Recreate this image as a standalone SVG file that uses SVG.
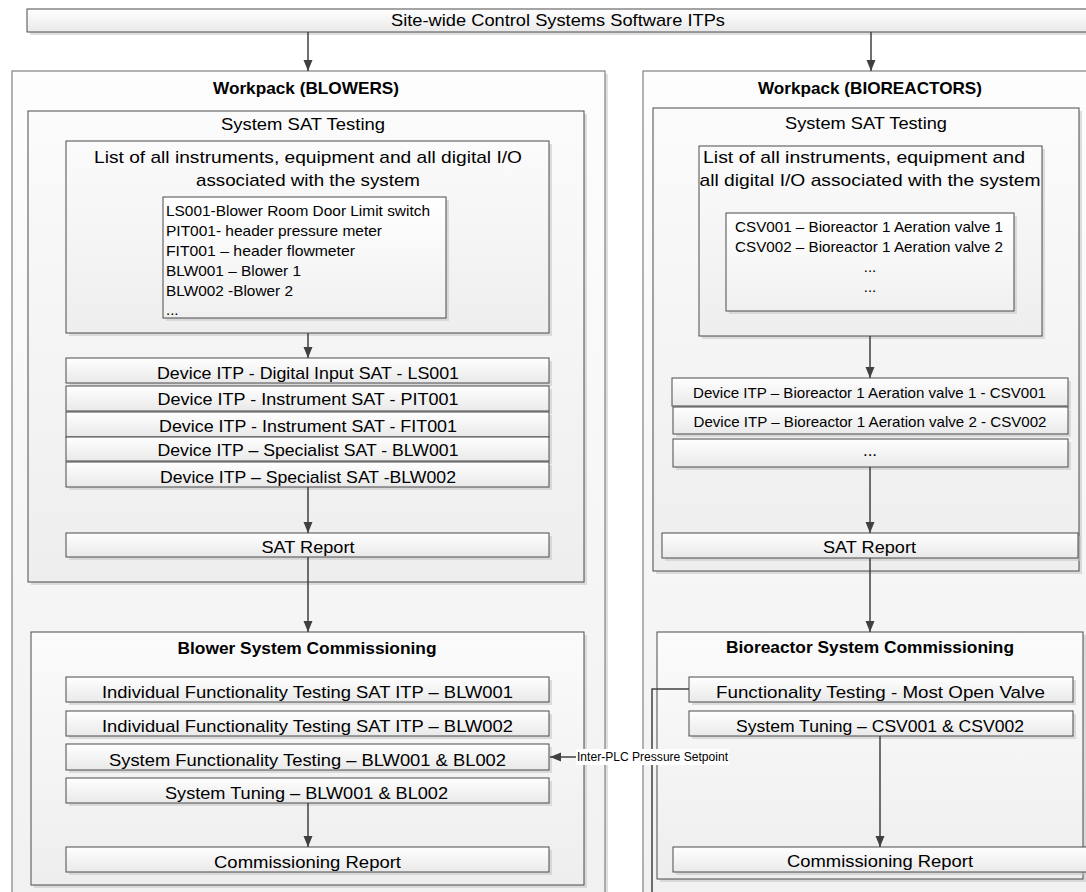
<svg xmlns="http://www.w3.org/2000/svg" width="1086" height="892" viewBox="0 0 1086 892">
<style>
text{font-family:"Liberation Sans",Arial,sans-serif;fill:#000}
.t{font-size:17px;text-anchor:middle}
.tc{font-size:15px;text-anchor:middle}
.b{font-size:17px;font-weight:bold;text-anchor:middle}
.s{font-size:15px}
.sm{font-size:15px;text-anchor:middle}
.lbl{font-size:12px}
.box{fill:url(#gBox);stroke:#4a4a4a;stroke-width:1}
.cont{fill:url(#gCont);stroke:#4a4a4a;stroke-width:1}
.wp{fill:url(#gWp);stroke:#8a8a8a;stroke-width:1.3}
.lst{fill:url(#gList);stroke:#4a4a4a;stroke-width:1}
.sh{fill:#c4c4c4;opacity:.55}
.con{fill:none;stroke:#404040;stroke-width:1.5}
.arr{marker-end:url(#ah)}
</style>
<defs>
<linearGradient id="gBox" x1="0" y1="0" x2="0" y2="1"><stop offset="0" stop-color="#ffffff"/><stop offset="1" stop-color="#e9e9e9"/></linearGradient>
<linearGradient id="gCont" x1="0" y1="0" x2="0" y2="1"><stop offset="0" stop-color="#fbfbfb"/><stop offset="1" stop-color="#eeeeee"/></linearGradient>
<linearGradient id="gWp" x1="0" y1="0" x2="0" y2="1"><stop offset="0" stop-color="#fdfdfd"/><stop offset="1" stop-color="#f1f1f1"/></linearGradient>
<linearGradient id="gList" x1="0" y1="0" x2="0" y2="1"><stop offset="0" stop-color="#ffffff"/><stop offset="1" stop-color="#f0f0f0"/></linearGradient>
<marker id="ah" markerUnits="userSpaceOnUse" markerWidth="12" markerHeight="10" refX="11" refY="5" orient="auto"><path d="M0,0.5 L11,5 L0,9.5 z" fill="#404040"/></marker>
</defs>
<rect width="1086" height="892" fill="#ffffff"/>

<g id="top">
<rect class="sh" x="30" y="12" width="1062" height="23"/>
<rect class="box" x="27" y="9" width="1062" height="23"/>
<text class="t" x="558" y="26" textLength="334" lengthAdjust="spacingAndGlyphs">Site-wide Control Systems Software ITPs</text>
</g>

<g id="workpack-blowers">
<rect class="sh" x="15" y="74" width="593" height="830"/>
<rect class="wp" x="12" y="71" width="593" height="830"/>
<text class="b" x="306" y="94" textLength="186" lengthAdjust="spacingAndGlyphs">Workpack (BLOWERS)</text>
</g>

<g id="workpack-bioreactors">
<rect class="sh" x="646" y="74" width="460" height="830"/>
<rect class="wp" x="643" y="71" width="460" height="830"/>
<text class="b" x="870" y="94" textLength="224" lengthAdjust="spacingAndGlyphs">Workpack (BIOREACTORS)</text>
</g>

<g id="sat-blowers">
<rect class="sh" x="31" y="114" width="556" height="471"/>
<rect class="cont" x="28" y="111" width="556" height="471"/>
<text class="t" x="303" y="130" textLength="164" lengthAdjust="spacingAndGlyphs">System SAT Testing</text>
</g>

<g id="list-blowers">
<rect class="sh" x="69" y="144" width="483" height="192"/>
<rect class="cont" x="66" y="141" width="483" height="192"/>
<text class="t" x="308" y="163" textLength="428" lengthAdjust="spacingAndGlyphs">List of all instruments, equipment and all digital I/O</text>
<text class="t" x="308" y="186" textLength="224" lengthAdjust="spacingAndGlyphs">associated with the system</text>
</g>

<g id="items-blowers">
<rect class="sh" x="166" y="200" width="283" height="121"/>
<rect class="lst" x="163" y="197" width="283" height="121"/>
<text class="s" x="166" y="216" textLength="264" lengthAdjust="spacingAndGlyphs">LS001-Blower Room Door Limit switch</text>
<text class="s" x="166" y="236" textLength="216" lengthAdjust="spacingAndGlyphs">PIT001- header pressure meter</text>
<text class="s" x="166" y="256" textLength="189" lengthAdjust="spacingAndGlyphs">FIT001 – header flowmeter</text>
<text class="s" x="166" y="276" textLength="135" lengthAdjust="spacingAndGlyphs">BLW001 – Blower 1</text>
<text class="s" x="166" y="296" textLength="127" lengthAdjust="spacingAndGlyphs">BLW002 -Blower 2</text>
<text class="s" x="166" y="315">...</text>
</g>

<g id="dev-ls001">
<rect class="sh" x="69" y="361" width="483" height="25"/>
<rect class="box" x="66" y="358" width="483" height="25"/>
<text class="t" x="308" y="379" textLength="302" lengthAdjust="spacingAndGlyphs">Device ITP - Digital Input SAT - LS001</text>
</g>
<g id="dev-pit001">
<rect class="sh" x="69" y="389" width="483" height="25"/>
<rect class="box" x="66" y="386" width="483" height="25"/>
<text class="t" x="308" y="405" textLength="301" lengthAdjust="spacingAndGlyphs">Device ITP - Instrument SAT - PIT001</text>
</g>
<g id="dev-fit001">
<rect class="sh" x="69" y="415" width="483" height="25"/>
<rect class="box" x="66" y="412" width="483" height="25"/>
<text class="t" x="308" y="432" textLength="298" lengthAdjust="spacingAndGlyphs">Device ITP - Instrument SAT - FIT001</text>
</g>
<g id="dev-blw001">
<rect class="sh" x="69" y="440" width="483" height="24"/>
<rect class="box" x="66" y="437" width="483" height="24"/>
<text class="t" x="308" y="456" textLength="301" lengthAdjust="spacingAndGlyphs">Device ITP – Specialist SAT - BLW001</text>
</g>
<g id="dev-blw002">
<rect class="sh" x="69" y="465" width="483" height="25"/>
<rect class="box" x="66" y="462" width="483" height="25"/>
<text class="t" x="308" y="483" textLength="296" lengthAdjust="spacingAndGlyphs">Device ITP – Specialist SAT -BLW002</text>
</g>
<g id="sat-report-blowers">
<rect class="sh" x="69" y="536" width="483" height="24"/>
<rect class="box" x="66" y="533" width="483" height="24"/>
<text class="t" x="308" y="553" textLength="93" lengthAdjust="spacingAndGlyphs">SAT Report</text>
</g>

<g id="comm-blowers">
<rect class="sh" x="34" y="635" width="553" height="253"/>
<rect class="cont" x="31" y="632" width="553" height="253"/>
<text class="b" x="307" y="654" textLength="259" lengthAdjust="spacingAndGlyphs">Blower System Commissioning</text>
</g>
<g id="ift-blw001">
<rect class="sh" x="69" y="680" width="483" height="25"/>
<rect class="box" x="66" y="677" width="483" height="25"/>
<text class="t" x="307.5" y="698" textLength="411" lengthAdjust="spacingAndGlyphs">Individual Functionality Testing SAT ITP – BLW001</text>
</g>
<g id="ift-blw002">
<rect class="sh" x="69" y="714" width="483" height="25"/>
<rect class="box" x="66" y="711" width="483" height="25"/>
<text class="t" x="307.5" y="732" textLength="411" lengthAdjust="spacingAndGlyphs">Individual Functionality Testing SAT ITP – BLW002</text>
</g>
<g id="sft-blowers">
<rect class="sh" x="69" y="747" width="483" height="26"/>
<rect class="box" x="66" y="744" width="483" height="26"/>
<text class="t" x="307.5" y="766" textLength="397" lengthAdjust="spacingAndGlyphs">System Functionality Testing – BLW001 &amp; BL002</text>
</g>
<g id="tuning-blowers">
<rect class="sh" x="69" y="781" width="483" height="25"/>
<rect class="box" x="66" y="778" width="483" height="25"/>
<text class="t" x="306.5" y="799" textLength="283" lengthAdjust="spacingAndGlyphs">System Tuning – BLW001 &amp; BL002</text>
</g>
<g id="report-blowers">
<rect class="sh" x="69" y="850" width="483" height="25"/>
<rect class="box" x="66" y="847" width="483" height="25"/>
<text class="t" x="307.5" y="868" textLength="187" lengthAdjust="spacingAndGlyphs">Commissioning Report</text>
</g>

<g id="sat-bioreactors">
<rect class="sh" x="656" y="111" width="426" height="463"/>
<rect class="cont" x="653" y="108" width="426" height="463"/>
<text class="t" x="866" y="129" textLength="162" lengthAdjust="spacingAndGlyphs">System SAT Testing</text>
</g>
<g id="list-bioreactors">
<rect class="sh" x="702" y="149" width="343" height="190"/>
<rect class="cont" x="699" y="146" width="343" height="190"/>
<text class="t" x="864" y="163" textLength="322" lengthAdjust="spacingAndGlyphs">List of all instruments, equipment and</text>
<text class="t" x="870" y="186" textLength="341" lengthAdjust="spacingAndGlyphs">all digital I/O associated with the system</text>
</g>
<g id="items-bioreactors">
<rect class="sh" x="729" y="216" width="288" height="98"/>
<rect class="lst" x="726" y="213" width="288" height="98"/>
<text class="sm" x="869" y="232" textLength="268" lengthAdjust="spacingAndGlyphs">CSV001 – Bioreactor 1 Aeration valve 1</text>
<text class="sm" x="869" y="252" textLength="268" lengthAdjust="spacingAndGlyphs">CSV002 – Bioreactor 1 Aeration valve 2</text>
<text class="sm" x="870" y="272">...</text>
<text class="sm" x="870" y="292">...</text>
</g>
<g id="dev-csv001">
<rect class="sh" x="675" y="381" width="396" height="28"/>
<rect class="box" x="672" y="378" width="396" height="28"/>
<text class="tc" x="869.5" y="398" textLength="353" lengthAdjust="spacingAndGlyphs">Device ITP – Bioreactor 1 Aeration valve 1 - CSV001</text>
</g>
<g id="dev-csv002">
<rect class="sh" x="676" y="410" width="395" height="27"/>
<rect class="box" x="673" y="407" width="395" height="27"/>
<text class="tc" x="870" y="427" textLength="353" lengthAdjust="spacingAndGlyphs">Device ITP – Bioreactor 1 Aeration valve 2 - CSV002</text>
</g>
<g id="dev-more">
<rect class="sh" x="676" y="442" width="395" height="28"/>
<rect class="box" x="673" y="439" width="395" height="28"/>
<text class="t" x="870" y="456">...</text>
</g>
<g id="sat-report-bioreactors">
<rect class="sh" x="665" y="536" width="416" height="25"/>
<rect class="box" x="662" y="533" width="416" height="25"/>
<text class="t" x="869.5" y="553" textLength="93" lengthAdjust="spacingAndGlyphs">SAT Report</text>
</g>

<g id="comm-bioreactors">
<rect class="sh" x="660" y="635" width="426" height="247"/>
<rect class="cont" x="657" y="632" width="426" height="247"/>
<text class="b" x="870" y="653" textLength="288" lengthAdjust="spacingAndGlyphs">Bioreactor System Commissioning</text>
</g>
<g id="ft-most-open">
<rect class="sh" x="692" y="680" width="384" height="25"/>
<rect class="box" x="689" y="677" width="384" height="25"/>
<text class="t" x="880.5" y="698" textLength="329" lengthAdjust="spacingAndGlyphs">Functionality Testing - Most Open Valve</text>
</g>
<g id="tuning-bioreactors">
<rect class="sh" x="692" y="714" width="384" height="25"/>
<rect class="box" x="689" y="711" width="384" height="25"/>
<text class="t" x="880" y="732" textLength="288" lengthAdjust="spacingAndGlyphs">System Tuning – CSV001 &amp; CSV002</text>
</g>
<g id="report-bioreactors">
<rect class="sh" x="676" y="850" width="420" height="25"/>
<rect class="box" x="673" y="847" width="420" height="25"/>
<text class="t" x="880" y="867" textLength="186" lengthAdjust="spacingAndGlyphs">Commissioning Report</text>
</g>

<g id="connectors">
<path class="con arr" d="M308,32 V71"/>
<path class="con arr" d="M871,32 V71"/>
<path class="con arr" d="M308,333 V358"/>
<path class="con arr" d="M308,487 V533"/>
<path class="con arr" d="M308,557 V632"/>
<path class="con arr" d="M308,803 V847"/>
<path class="con arr" d="M870,336 V378"/>
<path class="con arr" d="M870,467 V533"/>
<path class="con arr" d="M870,558 V632"/>
<path class="con arr" d="M880,736 V847"/>
<path class="con" d="M689,689 H652 V892"/>
<path class="con arr" d="M577,757 H550"/>
<rect x="576" y="749" width="153" height="16" fill="#ffffff"/>
<text class="lbl" x="577" y="761" textLength="151" lengthAdjust="spacingAndGlyphs">Inter-PLC Pressure Setpoint</text>
</g>
</svg>
